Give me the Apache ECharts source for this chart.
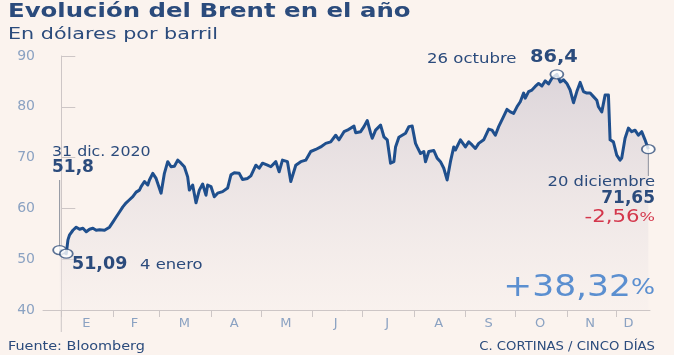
<!DOCTYPE html>
<html>
<head>
<meta charset="utf-8">
<script src="https://cdn.jsdelivr.net/npm/echarts@6/dist/echarts.min.js"></script>
<style>
html,body{margin:0;padding:0;background:#fbf3ee;}
#c{width:674px;height:355px;}
</style>
</head>
<body>
<div id="c"></div>
<script>
// ---- data ----
const dates = [
'2020-12-31','2021-01-04','2021-01-05','2021-01-06','2021-01-08','2021-01-10','2021-01-12','2021-01-14','2021-01-16','2021-01-18','2021-01-20','2021-01-22','2021-01-24','2021-01-27','2021-01-30',
'2021-02-01','2021-02-03','2021-02-05','2021-02-07','2021-02-09','2021-02-11','2021-02-13','2021-02-15','2021-02-17','2021-02-18','2021-02-20','2021-02-22','2021-02-23','2021-02-25','2021-02-27',
'2021-03-02','2021-03-04','2021-03-06','2021-03-08','2021-03-10','2021-03-12','2021-03-14','2021-03-16','2021-03-18','2021-03-19','2021-03-21','2021-03-23','2021-03-25','2021-03-27','2021-03-29','2021-03-30',
'2021-04-01','2021-04-03','2021-04-05','2021-04-08','2021-04-11','2021-04-13','2021-04-15','2021-04-18','2021-04-20','2021-04-23','2021-04-25','2021-04-28','2021-04-30',
'2021-05-02','2021-05-05','2021-05-07','2021-05-10','2021-05-12','2021-05-14','2021-05-17','2021-05-19','2021-05-22','2021-05-25','2021-05-28','2021-05-31',
'2021-06-03','2021-06-06','2021-06-09','2021-06-12','2021-06-15','2021-06-17','2021-06-20','2021-06-22','2021-06-26','2021-06-27','2021-06-30',
'2021-07-02','2021-07-04','2021-07-06','2021-07-07','2021-07-09','2021-07-12','2021-07-14','2021-07-16','2021-07-18','2021-07-20','2021-07-21','2021-07-23','2021-07-25','2021-07-27','2021-07-29','2021-07-31',
'2021-08-02','2021-08-03','2021-08-05','2021-08-07','2021-08-08','2021-08-10','2021-08-13','2021-08-15','2021-08-17','2021-08-19','2021-08-21','2021-08-23','2021-08-25','2021-08-26','2021-08-29',
'2021-09-01','2021-09-03','2021-09-05','2021-09-07','2021-09-09','2021-09-12','2021-09-15','2021-09-17','2021-09-19','2021-09-21','2021-09-24','2021-09-26','2021-09-28','2021-09-30',
'2021-10-02','2021-10-04','2021-10-06','2021-10-07','2021-10-09','2021-10-11','2021-10-13','2021-10-15','2021-10-17','2021-10-19','2021-10-21','2021-10-23','2021-10-24','2021-10-26','2021-10-28','2021-10-30',
'2021-11-01','2021-11-03','2021-11-05','2021-11-07','2021-11-09','2021-11-11','2021-11-13','2021-11-15','2021-11-17','2021-11-19','2021-11-20','2021-11-22','2021-11-24','2021-11-26','2021-11-27','2021-11-29',
'2021-12-01','2021-12-03','2021-12-04','2021-12-06','2021-12-08','2021-12-10','2021-12-12','2021-12-14','2021-12-16','2021-12-18','2021-12-20'
];
const prices = [
51.8,51.09,53.8,54.8,55.7,56.3,55.9,56.1,55.4,55.9,56.1,55.7,55.8,55.7,56.3,
57.3,58.3,59.3,60.3,61.1,61.7,62.3,63.2,63.6,64.3,65.3,64.6,65.6,66.9,65.9,
63.0,66.9,69.2,68.2,68.3,69.5,68.9,68.2,66.2,63.6,64.6,61.1,63.6,64.8,62.6,64.6,
64.3,62.3,63.0,63.3,64.0,66.6,67.0,66.9,65.7,65.9,66.4,68.5,67.9,
68.9,68.5,68.2,69.2,67.2,69.5,69.2,65.3,68.5,69.2,69.5,71.2,
71.6,72.1,72.8,73.1,74.4,73.5,75.1,75.4,76.2,74.9,75.1,
76.1,77.3,74.8,73.8,75.4,76.4,74.1,73.5,68.9,69.2,72.1,74.0,74.4,74.8,76.1,76.2,
72.8,72.1,70.8,71.2,69.2,71.2,71.4,69.9,69.2,67.9,65.6,69.2,72.1,71.5,73.5,
72.1,73.1,72.5,71.8,72.8,73.5,75.6,75.4,74.4,76.1,78.1,79.5,79.0,78.7,
80.0,81.0,82.7,81.7,83.0,83.3,84.0,84.6,84.1,85.1,84.5,85.6,85.3,86.4,84.9,85.3,
84.6,83.3,80.8,83.0,84.8,83.0,82.7,82.7,82.0,81.3,80.0,79.0,82.3,82.3,73.5,73.1,
70.5,69.5,69.9,73.8,75.8,75.1,75.4,74.4,75.1,73.5,71.65
];
const monthStarts = ['2021-01-01','2021-02-01','2021-03-01','2021-04-01','2021-05-01','2021-06-01','2021-07-01','2021-08-01','2021-09-01','2021-10-01','2021-11-01','2021-12-01'];
const monthMids = ['2021-01-16','2021-02-14','2021-03-16','2021-04-15','2021-05-16','2021-06-15','2021-07-16','2021-08-16','2021-09-15','2021-10-16','2021-11-15','2021-12-08'];
const monthLabels = ['E','F','M','A','M','J','J','A','S','O','N','D'];
const yTicks = [40,50,60,70,80,90];
const highlightDates = ['2020-12-31','2021-01-04','2021-10-26','2021-12-20'];
const highlightValues = [51.8,51.09,86.4,71.65];
const axisMin = '2020-12-21';
const axisMax = '2021-12-21';

const NAVY = '#2b4b7c';
const FONT = '"DejaVu Sans", sans-serif';
// day number counted from 1 Jan 2021
const DAY0 = Date.UTC(2021, 0, 1);
const dayOf = s => { const p = s.split('-'); return Math.round((Date.UTC(+p[0], +p[1]-1, +p[2]) - DAY0) / 86400000); };
const midDays = monthMids.map(dayOf);

const chart = echarts.init(document.getElementById('c'), null, {renderer:'canvas'});
const option = {
  backgroundColor: '#fbf3ee',
  animation: false,
  grid: {left: 43, right: 24, top: 56, bottom: 45},
  xAxis: {
    type: 'value',
    min: dayOf(axisMin), max: dayOf(axisMax),
    axisLine: {show: true, lineStyle: {color: '#cdc6c6', width: 1}},
    axisTick: {show: true, customValues: monthStarts.map(dayOf), length: 7, lineStyle: {color: '#cdc6c6', width: 1}},
    axisLabel: {
      customValues: midDays,
      formatter: v => monthLabels[midDays.indexOf(v)],
      color: '#8ba2c2', fontSize: 13, fontFamily: FONT, margin: 7
    },
    splitLine: {show: false}
  },
  yAxis: {
    type: 'value', min: yTicks[0], max: yTicks[yTicks.length-1], interval: 10,
    axisLine: {show: true, lineStyle: {color: '#cdc6c6', width: 1}},
    axisTick: {show: true, inside: true, length: 14, lineStyle: {color: '#cdc6c6'}},
    axisLabel: {color: '#8ba2c2', fontSize: 14, fontFamily: FONT, margin: 8},
    splitLine: {show: false}
  },
  series: [
    {
      type: 'line',
      data: dates.map((d, i) => [dayOf(d), prices[i]]),
      symbol: 'none',
      lineStyle: {color: '#1f4f8d', width: 3, join: 'round'},
      areaStyle: {
        color: new echarts.graphic.LinearGradient(0, 0, 0, 1, [
          {offset: 0, color: 'rgba(205,198,208,0.95)'},
          {offset: 1, color: 'rgba(246,239,237,0.6)'}
        ])
      },
      z: 2
    },
    {
      type: 'scatter',
      data: highlightDates.map((d, i) => [dayOf(d), highlightValues[i]]),
      symbol: 'circle',
      symbolSize: [13, 9],
      itemStyle: {color: '#ffffff', borderColor: '#33507c', borderWidth: 1.5},
      z: 5
    }
  ]
};
chart.setOption(option);

const p0 = chart.convertToPixel({gridIndex: 0}, [dayOf(highlightDates[0]), highlightValues[0]]);
const p3 = chart.convertToPixel({gridIndex: 0}, [dayOf(highlightDates[3]), highlightValues[3]]);
const jan1 = chart.convertToPixel({gridIndex: 0}, [dayOf(monthStarts[0]), yTicks[0]]);

function txt(text, x, y, size, opts) {
  opts = opts || {};
  return {
    type: 'text', x: x, y: y, z: 10,
    scaleX: opts.sx || 1, originX: 0,
    style: {
      text: text, x: 0, y: 0,
      fill: opts.color || NAVY,
      fontSize: size, fontFamily: opts.font || FONT,
      fontWeight: opts.bold ? 'bold' : 'normal',
      textAlign: opts.align || 'left', textVerticalAlign: 'middle',
      rich: opts.rich
    }
  };
}

chart.setOption({
  graphic: [
    txt('Evolución del Brent en el año', 8, 12, 20, {bold: true, sx: 1.22}),
    txt('En dólares por barril', 8, 35, 15, {sx: 1.38}),
    txt('31 dic. 2020', 52, 152, 14, {sx: 1.13}),
    txt('51,8', 52, 168, 17, {bold: true}),
    txt('51,09', 72, 265, 17, {bold: true, sx: 1.03}),
    txt('4 enero', 140, 265, 14, {sx: 1.17}),
    txt('26 octubre', 427, 59, 14, {sx: 1.18}),
    txt('86,4', 530, 58, 17, {bold: true, sx: 1.14}),
    txt('20 diciembre', 655, 182, 14, {align: 'right', sx: 1.17}),
    txt('71,65', 655, 199, 17, {bold: true, align: 'right'}),
    txt('-2,56{p|%}', 655, 218, 17, {align: 'right', color: '#d4374c', sx: 1.25, rich: {p: {fontSize: 13, fill: '#d4374c', fontFamily: FONT}}}),
    txt('+38,32{p|%}', 655, 288, 30, {align: 'right', color: '#5b8fd0', sx: 1.15, rich: {p: {fontSize: 22, fill: '#5b8fd0', fontFamily: FONT}}}),
    txt('Fuente: Bloomberg', 8, 347, 12, {sx: 1.2}),
    txt('C. CORTINAS / CINCO DÍAS', 655, 347, 12, {align: 'right', sx: 1.1}),
    {type: 'line', z: 4, shape: {x1: p0[0], y1: 180, x2: p0[0], y2: p0[1]}, style: {stroke: '#8a8f9c', lineWidth: 1}},
    {type: 'line', z: 4, shape: {x1: p3[0], y1: p3[1], x2: p3[0], y2: 176}, style: {stroke: '#8a8f9c', lineWidth: 1}},
    {type: 'line', z: 4, shape: {x1: jan1[0], y1: jan1[1], x2: jan1[0], y2: jan1[1] + 22}, style: {stroke: '#cdc6c6', lineWidth: 1}}
  ]
});
</script>
</body>
</html>
